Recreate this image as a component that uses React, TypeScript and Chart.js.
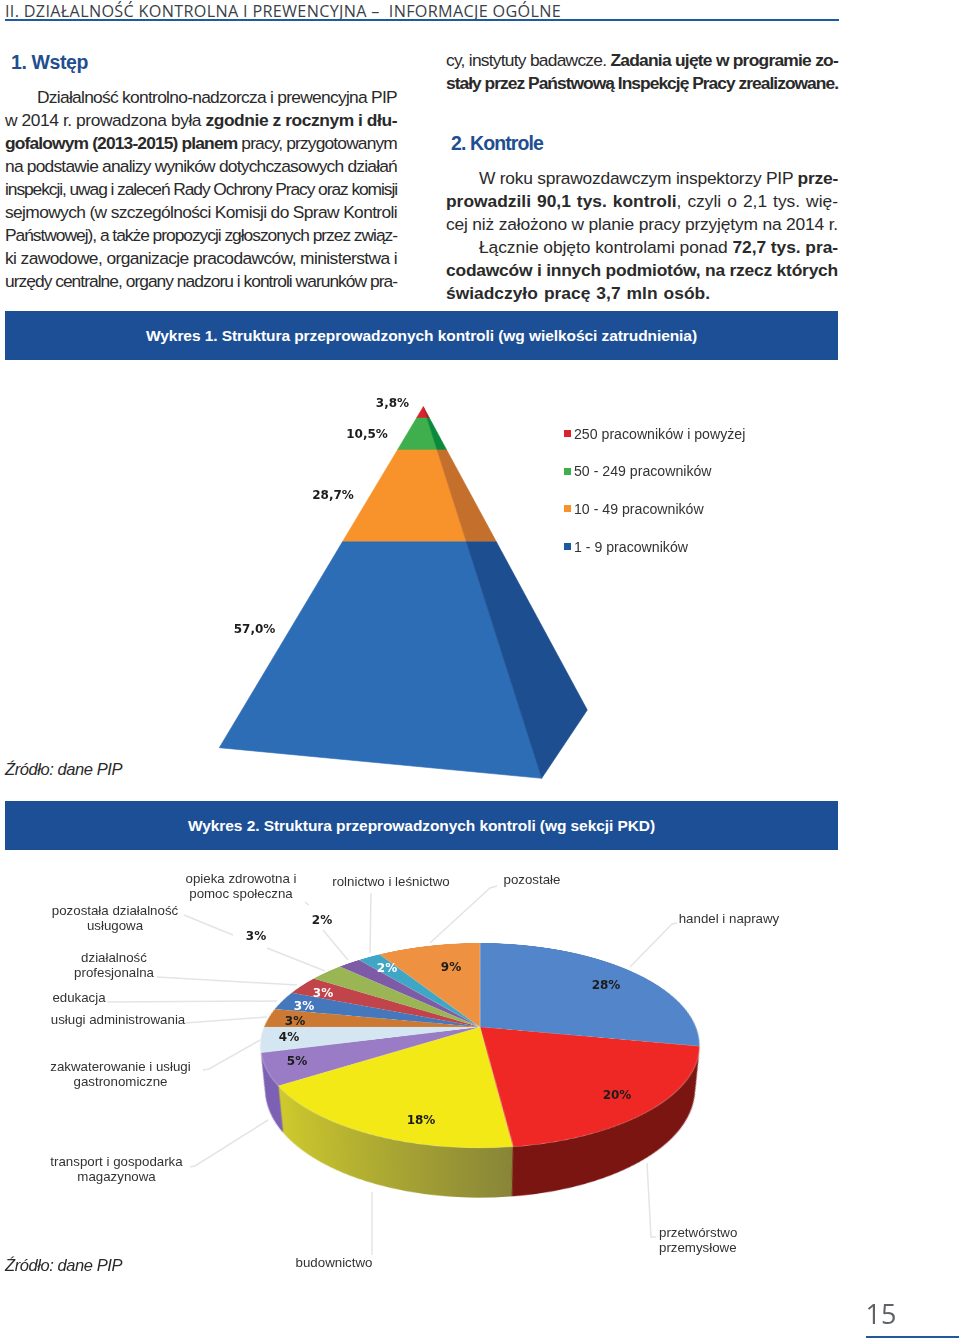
import React, { useEffect, useLayoutEffect, useRef } from "react";
import { Chart, registerables } from "chart.js";

Chart.register(...registerables);

// ---------- data ----------
const pyramidShares = [3.8, 10.5, 28.7, 57.0];
const pyramidCategories = ["250 pracowników i powyżej", "50 - 249 pracowników", "10 - 49 pracowników", "1 - 9 pracowników"];
const pieCategories = ["handel i naprawy", "przetwórstwo przemysłowe", "budownictwo", "transport i gospodarka magazynowa", "zakwaterowanie i usługi gastronomiczne", "usługi administrowania", "edukacja", "działalność profesjonalna", "pozostała działalność usługowa", "opieka zdrowotna i pomoc społeczna", "rolnictwo i leśnictwo", "pozostałe"];
const pieShares = [28, 20, 18, 5, 4, 3, 3, 3, 3, 2, 2, 9];

// ---------- styles ----------
const pyramidFront = ["#d9232e", "#3fae4c", "#f7932a", "#2c6db6"];
const pyramidSide = ["#a81c24", "#0b8a3c", "#c4702c", "#1d4e8f"];
const pieColors = ["#5285c9", "#ef2826", "#f3e917", "#9a7cc6", "#d4e6f1", "#cc7a33", "#4577bd", "#c0444a", "#99b554", "#7d5ba6", "#3fa6c6", "#ee9140"];
const pieRim = [
  ["#2f5585", "#2f5585"], ["#5c0e0c", "#7a1512"], ["#d6d22c", "#878439"], ["#7c60b4", "#7c60b4"],
  ["#8a9aa5", "#8a9aa5"], ["#8a5222", "#8a5222"], ["#2e5080", "#2e5080"], ["#802c30", "#802c30"],
  ["#667838", "#667838"], ["#533c6e", "#533c6e"], ["#2a6e84", "#2a6e84"], ["#a0612a", "#a0612a"],
];
const BLUE = "#1d4f96";
const BODY = '"Liberation Sans", Arial, sans-serif';
const WIDE = '"DejaVu Sans", Verdana, sans-serif';

// ---------- pyramid chart ----------
const apex = { x: 423.3, y: 406.7 };
const cornerLeft = { x: 219.3, y: 747.7 };
const cornerFront = { x: 541.7, y: 778.3 };
const cornerBack = { x: 587.3, y: 710 };

function foreshorten(c: number) {
  return (0.87 * c) / (1 - 0.13 * c);
}
function onEdge(corner: { x: number; y: number }, cum: number) {
  const y = apex.y + foreshorten(cum) * (cornerLeft.y - apex.y);
  const t = cum >= 0.9999 ? 1 : (y - apex.y) / (corner.y - apex.y);
  return { x: apex.x + t * (corner.x - apex.x), y: apex.y + t * (corner.y - apex.y) };
}
function pyramidDatasets() {
  const out: any[] = [];
  let cum = 0;
  const total = pyramidShares.reduce((a, b) => a + b, 0);
  pyramidShares.forEach((v, i) => {
    const a = cum / total;
    const b = (cum + v) / total;
    cum += v;
    out.push({
      label: pyramidCategories[i],
      polyColor: pyramidFront[i],
      data: [onEdge(cornerLeft, a), onEdge(cornerFront, a), onEdge(cornerFront, b), onEdge(cornerLeft, b)],
      showLine: false,
      pointRadius: 0,
    });
    out.push({
      label: pyramidCategories[i],
      polyColor: pyramidSide[i],
      data: [onEdge(cornerFront, a), onEdge(cornerBack, a), onEdge(cornerBack, b), onEdge(cornerFront, b)],
      showLine: false,
      pointRadius: 0,
    });
  });
  return out;
}
const polygonPlugin = {
  id: "polygons",
  afterDatasetsDraw(chart: any) {
    const ctx = chart.ctx;
    chart.data.datasets.forEach((ds: any, i: number) => {
      const pts = chart.getDatasetMeta(i).data;
      ctx.save();
      ctx.beginPath();
      pts.forEach((p: any, k: number) => (k ? ctx.lineTo(p.x, p.y) : ctx.moveTo(p.x, p.y)));
      ctx.closePath();
      ctx.fillStyle = ds.polyColor;
      ctx.strokeStyle = ds.polyColor;
      ctx.lineWidth = 0.6;
      ctx.fill();
      ctx.stroke();
      ctx.restore();
    });
  },
};

// ---------- pie chart: a flat Chart.js pie tilted in 3D by CSS ----------
const PIE_RADIUS = 216;
const PIE_BOX = 620;
const TILT_DEG = 62.67;
const PERSPECTIVE = 1066;
const RIM_DEPTH = 50;
const RIM_LAYERS = 50;
const eyeDist = PERSPECTIVE * Math.cos((TILT_DEG * Math.PI) / 180);
const eyeFoot = PERSPECTIVE * Math.sin((TILT_DEG * Math.PI) / 180);

const rimPlugin = {
  id: "rim",
  beforeDatasetsDraw(chart: any) {
    const ctx = chart.ctx;
    const arcs = chart.getDatasetMeta(0).data;
    for (let l = RIM_LAYERS; l >= 1; l--) {
      const f = eyeDist / (eyeDist + (l / RIM_LAYERS) * RIM_DEPTH);
      arcs.forEach((a: any, i: number) => {
        ctx.save();
        ctx.translate(a.x, a.y + eyeFoot);
        ctx.scale(f, f);
        ctx.translate(-a.x, -(a.y + eyeFoot));
        const g = ctx.createLinearGradient(a.x - 205, 0, a.x + 30, 0);
        g.addColorStop(0, pieRim[i][0]);
        g.addColorStop(1, pieRim[i][1]);
        ctx.fillStyle = g;
        ctx.beginPath();
        ctx.moveTo(a.x, a.y);
        ctx.arc(a.x, a.y, a.outerRadius, a.startAngle, a.endAngle);
        ctx.closePath();
        ctx.fill();
        ctx.restore();
      });
    }
  },
};

// ---------- page text ----------
type Seg = [string, boolean?];
const leftLines: { x: number; y: number; s: Seg[] }[] = [
  { x: 37, y: 97, s: [["Działalność kontrolno-nadzorcza i prewencyjna PIP"]] },
  { x: 5, y: 120, s: [["w 2014 r. prowadzona była "], ["zgodnie z rocznym i dłu-", true]] },
  { x: 5, y: 143, s: [["gofalowym (2013-2015) planem ", true], ["pracy, przygotowanym"]] },
  { x: 5, y: 166, s: [["na podstawie analizy wyników dotychczasowych działań"]] },
  { x: 5, y: 189, s: [["inspekcji, uwag i zaleceń Rady Ochrony Pracy oraz komisji"]] },
  { x: 5, y: 212, s: [["sejmowych (w szczególności Komisji do Spraw Kontroli"]] },
  { x: 5, y: 235, s: [["Państwowej), a także propozycji zgłoszonych przez związ-"]] },
  { x: 5, y: 258, s: [["ki zawodowe, organizacje pracodawców, ministerstwa i"]] },
  { x: 5, y: 281, s: [["urzędy centralne, organy nadzoru i kontroli warunków pra-"]] },
];
const rightLines: { x: number; y: number; s: Seg[] }[] = [
  { x: 446, y: 60, s: [["cy, instytuty badawcze. "], ["Zadania ujęte w programie zo-", true]] },
  { x: 446, y: 83, s: [["stały przez Państwową Inspekcję Pracy zrealizowane.", true]] },
  { x: 479, y: 178, s: [["W roku sprawozdawczym inspektorzy PIP "], ["prze-", true]] },
  { x: 446, y: 201, s: [["prowadzili 90,1 tys. kontroli", true], [", czyli o 2,1 tys. wię-"]] },
  { x: 446, y: 224, s: [["cej niż założono w planie pracy przyjętym na 2014 r."]] },
  { x: 479, y: 247, s: [["Łącznie objęto kontrolami ponad "], ["72,7 tys. pra-", true]] },
  { x: 446, y: 270, s: [["codawców i innych podmiotów, na rzecz których", true]] },
];
const pieLabelLines: { x: number; y: number; t: string; left?: boolean }[] = [
  { x: 241, y: 879, t: "opieka zdrowotna i" }, { x: 241, y: 894, t: "pomoc społeczna" },
  { x: 391, y: 882, t: "rolnictwo i leśnictwo" },
  { x: 532, y: 880, t: "pozostałe" },
  { x: 729, y: 919, t: "handel i naprawy" },
  { x: 115, y: 911, t: "pozostała działalność" }, { x: 115, y: 926, t: "usługowa" },
  { x: 114, y: 958, t: "działalność" }, { x: 114, y: 973, t: "profesjonalna" },
  { x: 79, y: 997.5, t: "edukacja" },
  { x: 118, y: 1020, t: "usługi administrowania" },
  { x: 120.5, y: 1067, t: "zakwaterowanie i usługi" }, { x: 120.5, y: 1082, t: "gastronomiczne" },
  { x: 116.5, y: 1162, t: "transport i gospodarka" }, { x: 116.5, y: 1177, t: "magazynowa" },
  { x: 334, y: 1263, t: "budownictwo" },
  { x: 659, y: 1233, t: "przetwórstwo", left: true }, { x: 659, y: 1248, t: "przemysłowe", left: true },
];
// where each share of the pie prints its percentage, in pieShares order
const pieValuePlace = [
  { x: 606, y: 985 }, { x: 617, y: 1095 }, { x: 421, y: 1120 }, { x: 297, y: 1061 }, { x: 289, y: 1037 },
  { x: 295, y: 1021 }, { x: 304, y: 1006, c: "#fff" }, { x: 323, y: 993, c: "#fff" }, { x: 256, y: 936 },
  { x: 322, y: 920 }, { x: 387, y: 968, c: "#fff" }, { x: 451, y: 967 },
];
const pyramidValuePlace = [
  { x: 392.5, y: 403 }, { x: 367, y: 434 }, { x: 333, y: 495 }, { x: 254.5, y: 629 },
];
const leaders = [
  "184,915 233,935", "267,948 325,971", "305,902 309,905", "323,930 348,960",
  "371,893 370,953", "497,886 490,888 430,943", "677,923 672,924 630,967",
  "157,977 297,985", "107,1002 277,1001", "185,1023 267,1017", "203,1070 209,1069 260,1040",
  "190,1167 195,1166 268,1120", "372,1192 372,1255", "647,1163 651,1237 656,1237",
];

function Fit({ x, y, w, font, size, color, bold, italic, letter, children }: any) {
  return (
    <div
      data-w={w}
      data-letter={letter ? "1" : "0"}
      style={{
        position: "absolute", left: x, top: y + 1, transform: "translateY(-50%)",
        whiteSpace: "pre", fontFamily: font || BODY, fontSize: size, color: color || "#2a2a2a",
        fontWeight: bold ? 700 : 400, fontStyle: italic ? "italic" : "normal", lineHeight: 1.2,
      }}
    >
      {children}
    </div>
  );
}
function Line({ l, right }: { l: { x: number; y: number; s: Seg[] }; right: number }) {
  return (
    <Fit x={l.x} y={l.y - 1} w={right - l.x} size={17.4}>
      {l.s.map((seg, i) => (seg[1] ? <b key={i}>{seg[0]}</b> : <span key={i}>{seg[0]}</span>))}
    </Fit>
  );
}
function Small({ x, y, t, size, color, bold, font, left }: any) {
  return (
    <div
      style={{
        position: "absolute", left: x, top: y, transform: left ? "translateY(-50%)" : "translate(-50%,-50%)",
        whiteSpace: "pre", fontFamily: font || BODY, fontSize: size, color: color || "#333",
        fontWeight: bold ? 700 : 400, lineHeight: 1.2,
      }}
    >
      {t}
    </div>
  );
}

export default function App() {
  const rootRef = useRef<HTMLDivElement>(null);
  const pyrRef = useRef<HTMLCanvasElement>(null);
  const pieRef = useRef<HTMLCanvasElement>(null);

  useLayoutEffect(() => {
    rootRef.current!.querySelectorAll<HTMLElement>("[data-w]").forEach((el) => {
      const target = Number(el.dataset.w);
      const w = el.getBoundingClientRect().width;
      const text = el.textContent || "";
      const spaces = (text.match(/ /g) || []).length;
      if (w > target || el.dataset.letter === "1" || !spaces) {
        el.style.letterSpacing = (target - w) / text.length + "px";
      } else {
        el.style.wordSpacing = (target - w) / spaces + "px";
      }
    });
  }, []);

  useEffect(() => {
    const pyr = new Chart(pyrRef.current!, {
      type: "scatter",
      data: { datasets: pyramidDatasets() },
      options: {
        responsive: false,
        animation: false,
        layout: { padding: 0 },
        scales: {
          x: { type: "linear", min: 200, max: 600, display: false },
          y: { type: "linear", min: 395, max: 790, reverse: true, display: false },
        },
        plugins: { legend: { display: false }, tooltip: { enabled: false } },
      },
      plugins: [polygonPlugin],
    } as any);
    const pie = new Chart(pieRef.current!, {
      type: "pie",
      data: {
        labels: pieCategories,
        datasets: [{ data: pieShares, backgroundColor: pieColors, borderColor: "rgba(235,235,225,0.55)", borderWidth: 0.6 }],
      },
      options: {
        responsive: false,
        animation: false,
        devicePixelRatio: 2,
        radius: PIE_RADIUS,
        layout: { padding: 0 },
        plugins: { legend: { display: false }, tooltip: { enabled: false } },
      },
      plugins: [rimPlugin],
    } as any);
    return () => {
      pyr.destroy();
      pie.destroy();
    };
  }, []);

  return (
    <div ref={rootRef} style={{ position: "absolute", left: 0, top: 0, width: 960, height: 1343, background: "#fff", overflow: "hidden" }}>
      <Fit x={5} y={11} w={556} font='"Open Sans", sans-serif' size={16.2} color="#3a3f48" letter>
        {"II. DZIAŁALNOŚĆ KONTROLNA I PREWENCYJNA –  INFORMACJE OGÓLNE"}
      </Fit>
      <div style={{ position: "absolute", left: 5, top: 19, width: 834, height: 2, background: "#1f5a9e" }} />

      <Fit x={11} y={62} w={77} size={19.5} color="#1f4f8f" bold>1. Wstęp</Fit>
      {leftLines.map((l, i) => <Line key={i} l={l} right={397} />)}
      {rightLines.map((l, i) => <Line key={i} l={l} right={838} />)}
      <Fit x={446} y={292} w={264} size={17.4} bold>świadczyło pracę 3,7 mln osób.</Fit>
      <Fit x={451} y={143} w={92} size={19.5} color="#1f4f8f" bold>2. Kontrole</Fit>

      <div style={{ position: "absolute", left: 5, top: 311, width: 833, height: 49, background: BLUE }} />
      <Fit x={146} y={335} w={551} size={15.5} color="#fff" bold letter>Wykres 1. Struktura przeprowadzonych kontroli (wg wielkości zatrudnienia)</Fit>

      <canvas ref={pyrRef} width={400} height={395} style={{ position: "absolute", left: 200, top: 395, width: 400, height: 395 }} />
      {pyramidShares.map((v, i) => (
        <Small key={i} x={pyramidValuePlace[i].x} y={pyramidValuePlace[i].y} t={v.toFixed(1).replace(".", ",") + "%"} size={12} bold font={WIDE} color="#1c1c1c" />
      ))}
      {pyramidCategories.map((c, i) => (
        <React.Fragment key={i}>
          <div style={{ position: "absolute", left: 564, top: 430 + i * 37.7, width: 7, height: 7, background: pyramidFront[i] === "#2c6db6" ? "#1d5a9e" : pyramidFront[i] }} />
          <Small left x={574} y={433.5 + i * 37.7} t={c} size={14.15} color="#333" />
        </React.Fragment>
      ))}
      <Fit x={5} y={769} w={117} size={16.5} italic color="#2a2a2a" letter>Źródło: dane PIP</Fit>

      <div style={{ position: "absolute", left: 5, top: 801, width: 833, height: 49, background: BLUE }} />
      <Fit x={188} y={825} w={467} size={15.5} color="#fff" bold letter>Wykres 2. Struktura przeprowadzonych kontroli (wg sekcji PKD)</Fit>

      <svg width={960} height={1343} style={{ position: "absolute", left: 0, top: 0 }}>
        {leaders.map((p, i) => <polyline key={i} points={p} fill="none" stroke="#e3e5e5" strokeWidth={1.5} />)}
      </svg>
      <canvas
        ref={pieRef}
        width={PIE_BOX}
        height={PIE_BOX}
        style={{
          position: "absolute", left: 480 - PIE_BOX / 2, top: 1027 - PIE_BOX / 2, width: PIE_BOX, height: PIE_BOX,
          transform: `perspective(${PERSPECTIVE}px) rotateX(${TILT_DEG}deg)`, transformOrigin: "50% 50%",
        }}
      />
      {pieLabelLines.map((l, i) => <Small key={i} x={l.x} y={l.y} t={l.t} size={13.3} left={l.left} />)}
      {pieShares.map((v, i) => (
        <Small key={i} x={pieValuePlace[i].x} y={pieValuePlace[i].y} t={v + "%"} size={12} bold font={WIDE} color={pieValuePlace[i].c || "#1c1c1c"} />
      ))}

      <Fit x={5} y={1265} w={117} size={16.5} italic color="#2a2a2a" letter>Źródło: dane PIP</Fit>
      <Small x={881} y={1314} t="15" size={27} color="#5f6368" font='"Open Sans", sans-serif' />
      <div style={{ position: "absolute", left: 866, top: 1336, width: 93, height: 2, background: "#1f5a9e" }} />
    </div>
  );
}
